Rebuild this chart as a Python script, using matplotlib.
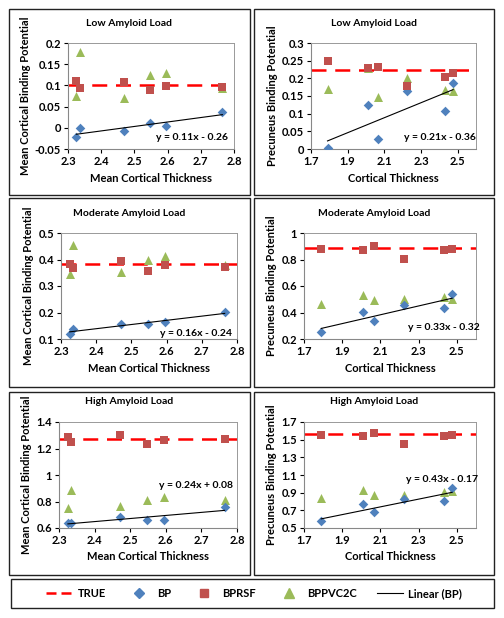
import numpy as np
import matplotlib
matplotlib.use("Agg")
import matplotlib.pyplot as plt
from matplotlib.patches import Rectangle
from matplotlib.lines import Line2D

plt.rcParams.update({
    "font.family": ["Lato", "DejaVu Sans"],
    "font.weight": "bold",
    "font.size": 7.5,
    "axes.labelweight": "bold",
})

# ── Data ─────────────────────────────────────────────────────────
x_mean = [2.325, 2.335, 2.47, 2.547, 2.596, 2.765]
x_prec = [1.79, 2.01, 2.065, 2.225, 2.43, 2.475]

low_mean_bp = [-0.022, 0.0, -0.008, 0.011, 0.005, 0.037]
low_mean_rsf = [0.111, 0.094, 0.108, 0.089, 0.099, 0.097]
low_mean_pvc = [0.076, 0.179, 0.070, 0.125, 0.130, 0.094]
low_mean_true = 0.1

low_prec_bp = [0.002, 0.125, 0.028, 0.165, 0.108, 0.187]
low_prec_rsf = [0.249, 0.228, 0.232, 0.178, 0.205, 0.215]
low_prec_pvc = [0.169, 0.229, 0.148, 0.202, 0.168, 0.165]
low_prec_true = 0.224

mod_mean_bp = [0.120, 0.137, 0.155, 0.158, 0.163, 0.201]
mod_mean_rsf = [0.383, 0.368, 0.393, 0.356, 0.380, 0.373]
mod_mean_pvc = [0.345, 0.455, 0.352, 0.400, 0.415, 0.378]
mod_mean_true = 0.384

mod_prec_bp = [0.255, 0.406, 0.338, 0.458, 0.436, 0.536]
mod_prec_rsf = [0.882, 0.875, 0.902, 0.807, 0.875, 0.882]
mod_prec_pvc = [0.463, 0.531, 0.491, 0.501, 0.516, 0.501]
mod_prec_true = 0.889

high_mean_bp = [0.638, 0.638, 0.683, 0.658, 0.663, 0.758]
high_mean_rsf = [1.287, 1.249, 1.304, 1.231, 1.262, 1.274]
high_mean_pvc = [0.754, 0.889, 0.766, 0.809, 0.834, 0.809]
high_mean_true = 1.274

high_prec_bp = [0.575, 0.768, 0.681, 0.830, 0.804, 0.951]
high_prec_rsf = [1.552, 1.545, 1.580, 1.455, 1.538, 1.558]
high_prec_pvc = [0.840, 0.926, 0.877, 0.877, 0.907, 0.915]
high_prec_true = 1.566

eq_labels = ["y = 0.11x - 0.26", "y = 0.21x - 0.36",
             "y = 0.16x - 0.24", "y = 0.33x - 0.32",
             "y = 0.24x + 0.08", "y = 0.43x - 0.17"]
titles = ["Low Amyloid Load", "Moderate Amyloid Load", "High Amyloid Load"]

C_BP = "#4F81BD"
C_RSF = "#C0504D"
C_PVC = "#9BBB59"

W, H = 504, 618
fig = plt.figure(figsize=(W / 100, H / 100), dpi=100)


def px_rect(l, t, r, b):
    return [l / W, 1 - b / H, (r - l) / W, (b - t) / H]


# panel layout (pixels): axes rect, panel box, title y, equation position
panels = [
    dict(ax=(68, 43, 234, 149), box=(9, 9, 250, 195), ty=24, eq=(192, 138),
         x=x_mean, bp=low_mean_bp, rsf=low_mean_rsf, pvc=low_mean_pvc, tr=low_mean_true,
         xlim=(2.3, 2.8), xt=np.arange(2.3, 2.81, 0.1), ylim=(-0.05, 0.2),
         yt=[-0.05, 0, 0.05, 0.1, 0.15, 0.2], yfmt="{:g}", kind="mean"),
    dict(ax=(311, 43, 476, 149), box=(254, 9, 494, 195), ty=24, eq=(440, 138),
         x=x_prec, bp=low_prec_bp, rsf=low_prec_rsf, pvc=low_prec_pvc, tr=low_prec_true,
         xlim=(1.7, 2.6), xt=[1.7, 1.9, 2.1, 2.3, 2.5], ylim=(0, 0.3),
         yt=[0, 0.05, 0.1, 0.15, 0.2, 0.25, 0.3], yfmt="{:g}", kind="prec"),
    dict(ax=(61, 233, 237, 339), box=(9, 198, 250, 387), ty=213, eq=(196, 333),
         x=x_mean, bp=mod_mean_bp, rsf=mod_mean_rsf, pvc=mod_mean_pvc, tr=mod_mean_true,
         xlim=(2.3, 2.8), xt=np.arange(2.3, 2.81, 0.1), ylim=(0.1, 0.5),
         yt=[0.1, 0.2, 0.3, 0.4, 0.5], yfmt="{:g}", kind="mean"),
    dict(ax=(304, 233, 476, 339), box=(254, 198, 494, 387), ty=213, eq=(444, 327),
         x=x_prec, bp=mod_prec_bp, rsf=mod_prec_rsf, pvc=mod_prec_pvc, tr=mod_prec_true,
         xlim=(1.7, 2.6), xt=[1.7, 1.9, 2.1, 2.3, 2.5], ylim=(0.2, 1.0),
         yt=[0.2, 0.4, 0.6, 0.8, 1.0], yfmt="{:g}", kind="prec"),
    dict(ax=(59, 422, 237, 528), box=(9, 392, 250, 575), ty=402, eq=(196, 485),
         x=x_mean, bp=high_mean_bp, rsf=high_mean_rsf, pvc=high_mean_pvc, tr=high_mean_true,
         xlim=(2.3, 2.8), xt=np.arange(2.3, 2.81, 0.1), ylim=(0.6, 1.4),
         yt=[0.6, 0.8, 1.0, 1.2, 1.4], yfmt="{:g}", kind="mean"),
    dict(ax=(304, 422, 476, 528), box=(254, 392, 494, 575), ty=402, eq=(442, 479),
         x=x_prec, bp=high_prec_bp, rsf=high_prec_rsf, pvc=high_prec_pvc, tr=high_prec_true,
         xlim=(1.7, 2.6), xt=[1.7, 1.9, 2.1, 2.3, 2.5], ylim=(0.5, 1.7),
         yt=[0.5, 0.7, 0.9, 1.1, 1.3, 1.5, 1.7], yfmt="{:.1f}", kind="prec"),
]

for i, p in enumerate(panels):
    l, t, r, b = p["box"]
    fig.patches.append(Rectangle((l / W, 1 - b / H), (r - l) / W, (b - t) / H,
                                 transform=fig.transFigure, fill=False,
                                 edgecolor="#222222", lw=1.0))
    ax = fig.add_axes(px_rect(*p["ax"]))
    x = np.array(p["x"])
    bp = np.array(p["bp"])

    ax.axhline(p["tr"], color="#FF0000", lw=1.8, dashes=(6, 3.5), zorder=1)
    ax.scatter(x, bp, marker="D", s=24, color=C_BP, zorder=3, linewidths=0)
    ax.scatter(x, p["rsf"], marker="s", s=38, color=C_RSF, zorder=3, linewidths=0)
    ax.scatter(x, p["pvc"], marker="^", s=42, color=C_PVC, zorder=2, linewidths=0)

    slope, icpt = np.polyfit(x, bp, 1)
    xs = np.array([x.min(), x.max()])
    ax.plot(xs, slope * xs + icpt, color="black", lw=0.8, zorder=4)

    ax.set_xlim(*p["xlim"])
    ax.set_ylim(*p["ylim"])
    ax.set_xticks(p["xt"])
    ax.set_xticklabels([f"{v:.1f}" for v in p["xt"]])
    ax.set_yticks(p["yt"])
    ax.set_yticklabels([p["yfmt"].format(v) for v in p["yt"]])
    ax.tick_params(length=3, width=0.8, pad=2, labelsize=8)

    for s in ("top", "right"):
        ax.spines[s].set_color("#999999")
        ax.spines[s].set_linewidth(0.7)
    for s in ("left", "bottom"):
        ax.spines[s].set_color("#888888")
        ax.spines[s].set_linewidth(0.8)

    if p["kind"] == "mean":
        ax.set_xlabel("Mean Cortical Thickness", labelpad=4, fontsize=8)
        ax.set_ylabel("Mean Cortical Binding Potential", labelpad=3, fontsize=8)
    else:
        ax.set_xlabel("Cortical Thickness", labelpad=4, fontsize=8)
        ax.set_ylabel("Precuneus Binding Potential", labelpad=3, fontsize=8)

    cx = (l + r) / 2
    fig.text(cx / W, 1 - p["ty"] / H, titles[i // 2], ha="center", va="center",
             fontsize=7.5, fontweight="bold")
    ex, ey = p["eq"]
    fig.text(ex / W, 1 - ey / H, eq_labels[i], ha="center", va="center",
             fontsize=7.5, fontweight="bold")

# ── Legend ───────────────────────────────────────────────────────
fig.patches.append(Rectangle((11 / W, 1 - 608 / H), (494 - 11) / W, (608 - 579) / H,
                             transform=fig.transFigure, fill=False,
                             edgecolor="#222222", lw=1.0))
handles = [
    Line2D([0], [0], color="#FF0000", lw=1.8, dashes=(4, 2), label="TRUE"),
    Line2D([0], [0], color=C_BP, marker="D", ms=5, lw=0, label="BP"),
    Line2D([0], [0], color=C_RSF, marker="s", ms=6, lw=0, label="BPRSF"),
    Line2D([0], [0], color=C_PVC, marker="^", ms=6.5, lw=0, label="BPPVC2C"),
    Line2D([0], [0], color="black", lw=0.8, label="Linear (BP)"),
]
fig.legend(handles=handles, loc="center", bbox_to_anchor=(254 / W, 1 - 593.5 / H),
           ncol=5, frameon=False, fontsize=8, handlelength=2.4,
           columnspacing=1.8, handletextpad=0.4)

fig.savefig("out.png", dpi=100, facecolor="white")
